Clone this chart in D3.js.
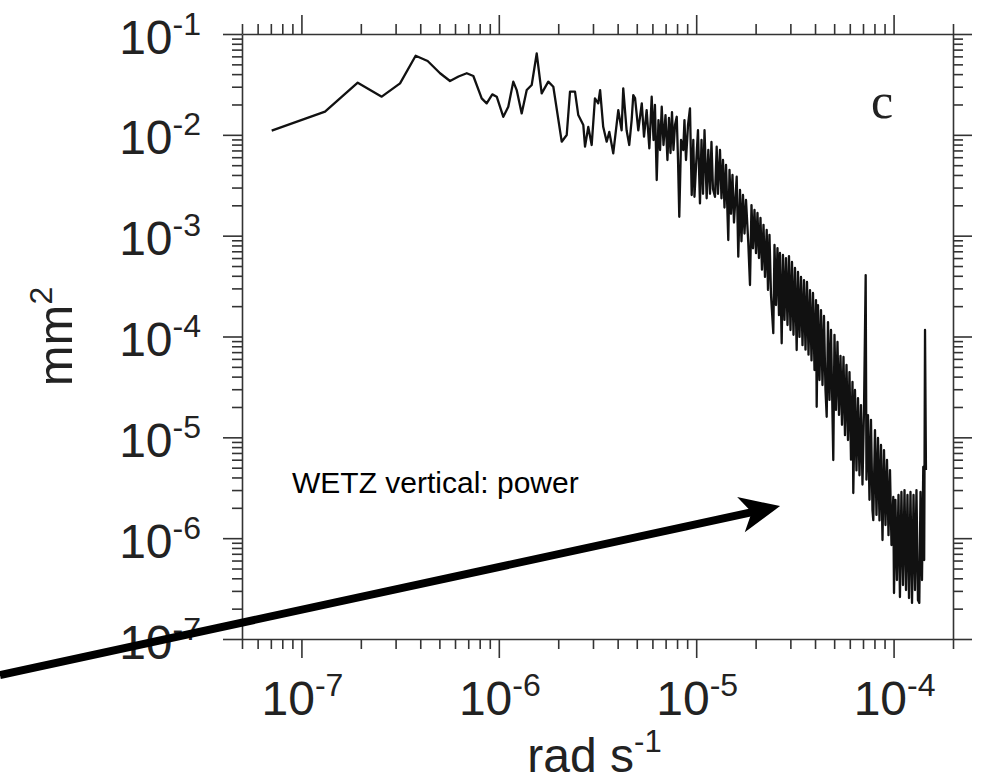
<!DOCTYPE html>
<html lang="en">
<head>
<meta charset="utf-8">
<title>WETZ vertical: power</title>
<script src="https://d3js.org/d3.v7.min.js"></script>
<style>
  body { margin: 0; background: #fff; }
  svg { display: block; }
  .axis path, .axis line { stroke: #333; stroke-width: 1.6; }
</style>
</head>
<body>
<div id="chart"></div>
<script>
// power spectrum: frequency (rad/s) and power (mm^2)
var freq = [
  7.07e-8, 1.317e-7, 1.929e-7, 2.552e-7, 3.16e-7, 3.79e-7, 4.36e-7, 5.04e-7, 5.66e-7, 6.25e-7,
  6.88e-7, 7.43e-7, 8.19e-7, 8.68e-7, 9.27e-7, 9.76e-7, 1.054e-6, 1.117e-6, 1.184e-6, 1.232e-6,
  1.306e-6, 1.385e-6, 1.468e-6, 1.556e-6, 1.649e-6, 1.781e-6, 1.889e-6, 2.083e-6, 2.208e-6, 2.295e-6,
  2.432e-6, 2.527e-6, 2.68e-6, 2.734e-6, 2.84e-6, 2.955e-6, 3.07e-6, 3.19e-6, 3.26e-6, 3.38e-6,
  3.52e-6, 3.63e-6, 3.80e-6, 4.03e-6, 4.19e-6, 4.27e-6, 4.44e-6, 4.58e-6, 4.71e-6, 4.80e-6,
  4.90e-6, 5.09e-6, 5.30e-6, 5.44e-6, 5.61e-6, 5.79e-6, 5.95e-6, 6.08e-6, 6.18e-6, 6.31e-6,
  6.44e-6, 6.56e-6, 6.69e-6, 6.83e-6, 6.99e-6, 7.15e-6, 7.28e-6, 7.41e-6, 7.54e-6, 7.67e-6,
  7.81e-6, 7.97e-6, 8.09e-6, 8.21e-6, 8.38e-6, 8.60e-6, 8.72e-6, 8.88e-6, 9.09e-6, 9.30e-6,
  9.49e-6, 9.67e-6, 9.80e-6, 1.006e-5, 1.021e-5, 1.045e-5, 1.064e-5, 1.083e-5, 1.102e-5, 1.130e-5,
  1.152e-5, 1.175e-5, 1.195e-5, 1.216e-5, 1.245e-5, 1.270e-5, 1.289e-5, 1.320e-5, 1.343e-5, 1.367e-5,
  1.391e-5, 1.416e-5, 1.454e-5, 1.475e-5, 1.501e-5, 1.527e-5, 1.554e-5, 1.604e-5, 1.634e-5, 1.667e-5,
  1.696e-5, 1.726e-5, 1.757e-5, 1.788e-5, 1.836e-5, 1.873e-5, 1.906e-5, 1.940e-5, 1.974e-5, 2.009e-5,
  2.044e-5, 2.080e-5, 2.117e-5, 2.154e-5, 2.193e-5, 2.231e-5, 2.276e-5, 2.311e-5, 2.351e-5, 2.393e-5,
  2.458e-5, 2.493e-5, 2.537e-5, 2.581e-5, 2.627e-5, 2.657e-5, 2.711e-5, 2.752e-5, 2.801e-5, 2.850e-5,
  2.901e-5, 2.952e-5, 3.004e-5, 3.057e-5, 3.111e-5, 3.166e-5, 3.229e-5, 3.279e-5, 3.337e-5, 3.396e-5,
  3.456e-5, 3.517e-5, 3.579e-5, 3.642e-5, 3.707e-5, 3.772e-5, 3.839e-5, 3.906e-5, 3.975e-5, 4.045e-5,
  4.078e-5, 4.140e-5, 4.213e-5, 4.288e-5, 4.363e-5, 4.440e-5, 4.519e-5, 4.583e-5, 4.653e-5, 4.735e-5,
  4.819e-5, 4.949e-5, 5.019e-5, 5.108e-5, 5.198e-5, 5.290e-5, 5.383e-5, 5.478e-5, 5.575e-5, 5.673e-5,
  5.774e-5, 5.875e-5, 5.979e-5, 6.085e-5, 6.192e-5, 6.250e-5, 6.375e-5, 6.487e-5, 6.602e-5, 6.718e-5,
  6.837e-5, 6.958e-5, 7.081e-5, 7.222e-5, 7.289e-5, 7.418e-5, 7.549e-5, 7.682e-5, 7.818e-5, 7.892e-5,
  8.050e-5, 8.192e-5, 8.337e-5, 8.484e-5, 8.634e-5, 8.787e-5, 8.942e-5, 9.100e-5, 9.261e-5, 9.424e-5,
  9.590e-5, 9.759e-5, 9.966e-5, 1.005e-4, 1.022e-4, 1.040e-4, 1.059e-4, 1.077e-4, 1.096e-4, 1.116e-4,
  1.136e-4, 1.156e-4, 1.176e-4, 1.197e-4, 1.218e-4, 1.240e-4, 1.262e-4, 1.284e-4, 1.306e-4, 1.329e-4,
  1.350e-4, 1.369e-4, 1.393e-4, 1.414e-4, 1.429e-4, 1.443e-4, 1.459e-4
];
var power = [
  1.10e-2, 1.70e-2, 3.29e-2, 2.39e-2, 3.24e-2, 6.09e-2, 5.40e-2, 4.08e-2, 3.42e-2, 3.79e-2,
  4.08e-2, 3.83e-2, 2.30e-2, 2.05e-2, 2.52e-2, 2.39e-2, 1.51e-2, 1.90e-2, 3.37e-2, 2.78e-2,
  1.63e-2, 2.78e-2, 3.12e-2, 6.43e-2, 2.58e-2, 3.37e-2, 3.00e-2, 8.55e-3, 9.96e-3, 2.68e-2,
  2.68e-2, 1.57e-2, 1.25e-2, 7.63e-3, 1.20e-2, 7.93e-3, 2.30e-2, 2.05e-2, 2.78e-2, 1.20e-2,
  8.55e-3, 1.07e-2, 6.56e-3, 1.76e-2, 1.11e-2, 2.89e-2, 1.11e-2, 7.93e-3, 1.40e-2, 2.48e-2,
  2.32e-2, 1.11e-2, 2.05e-2, 9.58e-3, 1.76e-2, 7.35e-3, 2.39e-2, 8.89e-3, 1.98e-2, 3.56e-3,
  1.40e-2, 7.07e-3, 1.90e-2, 7.93e-3, 1.57e-2, 5.63e-3, 1.47e-2, 6.60e-3, 1.68e-2, 7.07e-3,
  1.25e-2, 1.51e-2, 5.63e-3, 1.54e-3, 8.89e-3, 7.07e-3, 1.40e-2, 5.63e-3, 1.25e-2, 1.83e-2,
  2.53e-3, 8.89e-3, 2.43e-3, 6.56e-3, 1.11e-2, 2.09e-3, 8.89e-3, 2.60e-3, 1.11e-2, 2.35e-3,
  7.07e-3, 2.60e-3, 8.49e-3, 2.90e-3, 2.43e-3, 7.63e-3, 2.60e-3, 7.07e-3, 2.35e-3, 5.63e-3,
  1.90e-3, 5.02e-3, 9.06e-4, 4.48e-3, 1.65e-3, 4.00e-3, 1.35e-3, 3.84e-3, 6.19e-4, 2.84e-3,
  8.80e-4, 2.53e-3, 1.05e-3, 2.26e-3, 8.50e-4, 3.24e-4, 2.01e-3, 7.50e-4, 1.80e-3, 6.70e-4,
  1.68e-3, 6.00e-4, 1.50e-3, 4.60e-4, 1.28e-3, 3.90e-4, 1.14e-3, 2.90e-4, 1.02e-3, 2.60e-4,
  1.08e-4, 8.08e-4, 2.05e-4, 7.54e-4, 1.63e-4, 6.73e-4, 8.56e-5, 6.43e-4, 1.46e-4, 6.00e-4,
  1.30e-4, 6.28e-4, 1.16e-4, 5.48e-4, 1.04e-4, 4.78e-4, 7.35e-5, 4.36e-4, 9.90e-5, 3.89e-4,
  8.20e-5, 3.63e-4, 7.40e-5, 3.47e-4, 6.60e-5, 2.89e-4, 5.80e-5, 2.70e-4, 4.65e-5, 2.30e-4,
  2.01e-5, 2.05e-4, 3.70e-5, 1.83e-4, 3.30e-5, 1.60e-4, 2.95e-5, 1.60e-5, 1.39e-4, 2.35e-5,
  1.16e-4, 5.96e-6, 1.04e-4, 1.87e-5, 8.82e-5, 1.67e-5, 6.41e-5, 1.33e-5, 6.26e-5, 1.05e-5,
  5.22e-5, 9.41e-6, 4.44e-5, 6.00e-6, 3.54e-5, 2.80e-6, 2.95e-5, 4.70e-6, 2.45e-5, 4.20e-6,
  2.09e-5, 3.40e-6, 1.87e-5, 4.07e-4, 3.80e-6, 1.66e-5, 2.40e-6, 1.49e-5, 1.90e-6, 1.51e-6,
  1.18e-5, 1.70e-6, 9.85e-6, 1.50e-6, 8.39e-6, 9.58e-7, 7.48e-6, 1.35e-6, 5.96e-6, 1.07e-6,
  4.74e-6, 8.55e-7, 2.56e-6, 2.86e-7, 2.39e-6, 3.84e-7, 2.68e-6, 2.61e-7, 2.87e-6, 3.43e-7,
  3.00e-6, 3.06e-7, 2.68e-6, 2.55e-7, 2.87e-6, 2.28e-7, 2.68e-6, 3.06e-7, 3.00e-6, 2.43e-7,
  2.28e-7, 2.87e-6, 3.84e-7, 5.08e-6, 6.07e-7, 1.16e-4, 4.74e-6
];

// decade labels
var xTickExps = [-7, -6, -5, -4];
var yTickExps = [-7, -6, -5, -4, -3, -2, -1];

// annotation (data units)
var noteText = "WETZ vertical: power";
var noteAt = [8.96e-8, 2.80e-6];
var arrowFrom = [2.97e-9, 4.39e-8];
var arrowTo = [2.66e-5, 2.08e-6];

var W = 985, H = 784;
var margin = {top: 34, right: 32, bottom: 145, left: 242},
    width = W - margin.left - margin.right,
    height = H - margin.top - margin.bottom;

var svg = d3.select("#chart").append("svg")
    .attr("width", W)
    .attr("height", H)
    .style("font-family", "'Liberation Sans', Arial, Helvetica, sans-serif");

svg.append("rect").attr("width", W).attr("height", H).attr("fill", "#fff");

var g = svg.append("g")
    .attr("transform", "translate(" + margin.left + "," + margin.top + ")");

var x = d3.scaleLog().domain([5e-8, 2e-4]).range([0, width]);
var y = d3.scaleLog().domain([1e-7, 1e-1]).range([height, 0]);

var isMajor = function(v) {
  var l = Math.log10(v);
  return Math.abs(l - Math.round(l)) < 1e-6;
};

// axes on all four sides, ticks pointing out, long ones at decades
function side(axis, transform, attr, sign) {
  var a = g.append("g")
      .attr("class", "axis")
      .attr("transform", transform)
      .call(axis.tickSize(10).tickSizeOuter(0).tickFormat(""));
  a.selectAll(".tick line")
      .attr(attr, function(d) { return sign * (isMajor(d) ? 19 : 10); });
  return a;
}
var xt = x.ticks(), yt = y.ticks();
side(d3.axisBottom(x).tickValues(xt), "translate(0," + height + ")", "y2", 1);
side(d3.axisTop(x).tickValues(xt), "translate(0,0)", "y2", -1);
side(d3.axisLeft(y).tickValues(yt), "translate(0,0)", "x2", -1);
side(d3.axisRight(y).tickValues(yt), "translate(" + width + ",0)", "x2", 1);

// power of ten labels
function powLabel(sel, e) {
  sel.append("tspan").text("10");
  sel.append("tspan").attr("dy", -19).attr("font-size", 32).text(e);
}
g.selectAll(".xlab").data(xTickExps).join("text")
    .attr("class", "xlab")
    .attr("x", function(d) { return x(Math.pow(10, d)) + 1; })
    .attr("y", height + 76)
    .attr("text-anchor", "middle")
    .attr("font-size", 48)
    .attr("fill", "#222")
    .each(function(d) { powLabel(d3.select(this), d); });

g.selectAll(".ylab").data(yTickExps).join("text")
    .attr("class", "ylab")
    .attr("x", -41)
    .attr("y", function(d) { return y(Math.pow(10, d)) + 19.5; })
    .attr("text-anchor", "end")
    .attr("font-size", 48)
    .attr("fill", "#222")
    .each(function(d) { powLabel(d3.select(this), d); });

// axis titles
var xt1 = g.append("text")
    .attr("x", width / 2 - 3)
    .attr("y", height + 133)
    .attr("text-anchor", "middle")
    .attr("font-size", 48)
    .attr("fill", "#222");
xt1.append("tspan").text("rad s");
xt1.append("tspan").attr("dy", -20).attr("font-size", 31).text("-1");

var yt1 = g.append("text")
    .attr("transform", "translate(" + (72 - margin.left) + "," + (height / 2) + ") rotate(-90)")
    .attr("text-anchor", "middle")
    .attr("font-size", 49)
    .attr("fill", "#222");
yt1.append("tspan").text("mm");
yt1.append("tspan").attr("dy", -20).attr("font-size", 32).text("2");

// the spectrum
var line = d3.line()
    .x(function(d) { return x(d[0]); })
    .y(function(d) { return y(d[1]); });

g.append("path")
    .datum(d3.zip(freq, power))
    .attr("fill", "none")
    .attr("stroke", "#111")
    .attr("stroke-width", 2.3)
    .attr("stroke-linejoin", "round")
    .attr("d", line);

// panel letter
g.append("text")
    .attr("x", width - 82)
    .attr("y", 84)
    .attr("font-family", "'Liberation Serif', 'Times New Roman', serif")
    .attr("font-size", 50)
    .attr("fill", "#222")
    .text("c");

// annotation text and arrow
svg.append("text")
    .attr("x", margin.left + x(noteAt[0]))
    .attr("y", margin.top + y(noteAt[1]))
    .attr("font-size", 30)
    .attr("fill", "#000")
    .text(noteText);

var ax0 = margin.left + x(arrowFrom[0]), ay0 = margin.top + y(arrowFrom[1]),
    ax1 = margin.left + x(arrowTo[0]), ay1 = margin.top + y(arrowTo[1]);
var ang = Math.atan2(ay1 - ay0, ax1 - ax0) * 180 / Math.PI;
var len = Math.hypot(ax1 - ax0, ay1 - ay0);
var arrow = svg.append("g")
    .attr("transform", "translate(" + ax0 + "," + ay0 + ") rotate(" + ang + ")");
arrow.append("line")
    .attr("x1", 0).attr("y1", 0)
    .attr("x2", len - 26).attr("y2", 0)
    .attr("stroke", "#000")
    .attr("stroke-width", 8);
arrow.append("path")
    .attr("d", "M" + len + ",0 L" + (len - 40) + ",-18 L" + (len - 29) + ",0 L" + (len - 40) + ",18 Z")
    .attr("fill", "#000");
</script>
</body>
</html>
